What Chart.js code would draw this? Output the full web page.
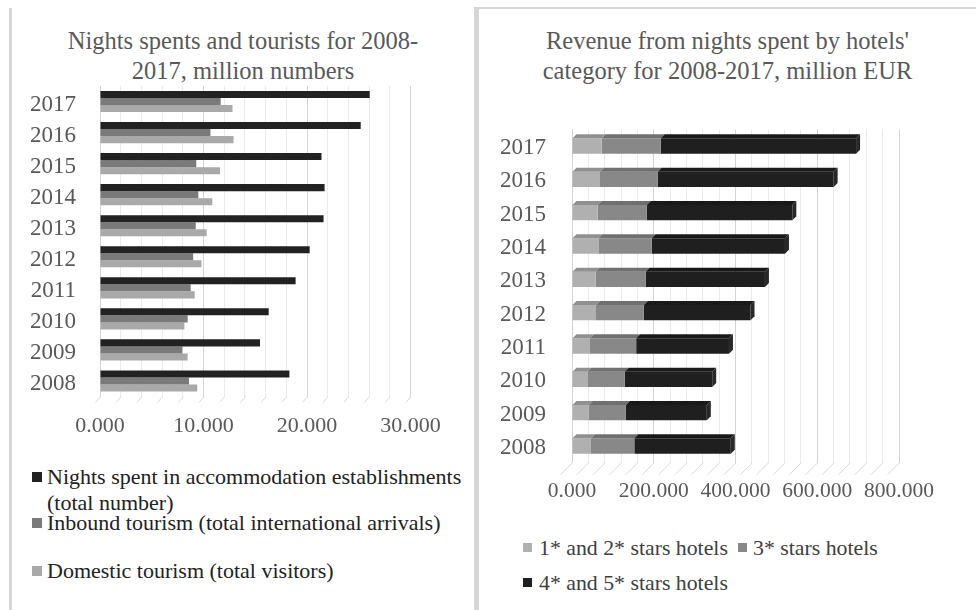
<!DOCTYPE html>
<html><head><meta charset="utf-8">
<script src="https://cdn.jsdelivr.net/npm/chart.js@4.4.0/dist/chart.umd.min.js"></script>
<style>
body{margin:0;background:#fff;width:976px;height:610px;position:relative;overflow:hidden;font-family:"Liberation Serif","Times New Roman",serif;}
.line{position:absolute;background:#d6d6d6;}
.title{position:absolute;text-align:center;color:#595959;font-size:24.5px;line-height:30px;white-space:nowrap;}
.lt{position:absolute;white-space:nowrap;line-height:26px;}
.sq{position:absolute;}
</style></head>
<body>
<div class="line" style="left:9px;top:8px;width:3px;height:602px"></div>
<div class="line" style="left:474px;top:8px;width:5px;height:602px"></div>
<div class="line" style="left:474px;top:7px;width:502px;height:2px"></div>
<div class="title" style="left:12px;top:26px;width:462px">Nights spents and tourists for 2008-<br>2017, million numbers</div>
<div class="title" style="left:479px;top:26px;width:497px">Revenue from nights spent by hotels'<br>category for 2008-2017, million EUR</div>
<div style="position:absolute;left:0;top:0;width:476px;height:450px"><canvas id="c1"></canvas></div>
<div style="position:absolute;left:478px;top:0;width:498px;height:510px"><canvas id="c2"></canvas></div>

<div class="sq" style="left:32px;top:472px;width:10px;height:10px;background:#222"></div>
<div class="lt" style="left:47px;top:464px;font-size:22px;color:#222">Nights spent in accommodation establishments</div>
<div class="lt" style="left:47px;top:490px;font-size:22px;color:#222">(total number)</div>
<div class="sq" style="left:32px;top:518px;width:10px;height:10px;background:#7a7a7a"></div>
<div class="lt" style="left:47px;top:510px;font-size:22px;color:#222">Inbound tourism (total international arrivals)</div>
<div class="sq" style="left:32px;top:566px;width:10px;height:10px;background:#a9a9a9"></div>
<div class="lt" style="left:47px;top:558px;font-size:22px;color:#222">Domestic tourism (total visitors)</div>

<div class="sq" style="left:523px;top:543px;width:9px;height:9px;background:#b0b0b0"></div>
<div class="lt" style="left:539px;top:535px;font-size:21.8px;color:#404040">1* and 2* stars hotels</div>
<div class="sq" style="left:738px;top:543px;width:9px;height:9px;background:#888888"></div>
<div class="lt" style="left:753px;top:535px;font-size:21.8px;color:#404040">3* stars hotels</div>
<div class="sq" style="left:523px;top:578px;width:9px;height:9px;background:#1f1f1f"></div>
<div class="lt" style="left:539px;top:570px;font-size:21.8px;color:#404040">4* and 5* stars hotels</div>

<script>
// ---- data ----
const years = ['2008','2009','2010','2011','2012','2013','2014','2015','2016','2017'];
// left chart, million numbers
const nightsSpent = [18.30, 15.46, 16.30, 18.90, 20.26, 21.60, 21.70, 21.40, 25.19, 26.06];
const inboundTourism = [8.60, 7.96, 8.47, 8.76, 9.00, 9.25, 9.50, 9.30, 10.67, 11.66];
const domesticTourism = [9.40, 8.47, 8.15, 9.15, 9.80, 10.30, 10.85, 11.60, 12.90, 12.80];
const leftTicks = [0, 10, 20, 30];
// right chart, million EUR
const hotels12 = [46.5, 40.8, 37.5, 44.0, 58.7, 58.0, 64.5, 63.0, 68.5, 72.6];
const hotels3 = [106.0, 91.0, 91.5, 113.0, 117.0, 122.0, 130.5, 120.0, 141.5, 144.4];
const hotels45 = [236.0, 198.0, 214.0, 227.0, 261.0, 292.0, 326.0, 356.0, 430.0, 478.0];
const rightTicks = [0, 200, 400, 600, 800];

const SERIF = '"Liberation Serif","Times New Roman",serif';
const fmt = v => Number(v).toFixed(3);

function floorPlugin(dx, dy) {
  return {
    id: 'floor',
    beforeDatasetsDraw(chart) {
      const ctx = chart.ctx, xs = chart.scales.x, area = chart.chartArea;
      ctx.save();
      xs.ticks.forEach(t => {
        const px = xs.getPixelForValue(t.value);
        ctx.strokeStyle = '#d9d9d9';
        ctx.lineWidth = 1;
        ctx.beginPath();
        ctx.moveTo(px + 0.5, area.bottom);
        ctx.lineTo(px + 0.5 - dx, area.bottom + dy);
        ctx.stroke();
      });
      ctx.restore();
    }
  };
}

function shade(hex, f) {
  const n = parseInt(hex.slice(1), 16);
  const r = Math.min(255, Math.round(((n >> 16) & 255) * f));
  const g = Math.min(255, Math.round(((n >> 8) & 255) * f));
  const b = Math.min(255, Math.round((n & 255) * f));
  return `rgb(${r},${g},${b})`;
}

const box3d = {
  id: 'box3d',
  afterDatasetsDraw(chart) {
    const ctx = chart.ctx, d = 4;
    const n = chart.data.datasets.length;
    ctx.save();
    chart.data.datasets.forEach((ds, di) => {
      const meta = chart.getDatasetMeta(di);
      meta.data.forEach(el => {
        const p = el.getProps(['x', 'y', 'base', 'height'], true);
        const top = p.y - p.height / 2, bot = p.y + p.height / 2;
        ctx.fillStyle = shade(ds.backgroundColor, 0.82);
        ctx.beginPath();
        ctx.moveTo(p.base, top);
        ctx.lineTo(p.x, top);
        ctx.lineTo(p.x + d, top - d);
        ctx.lineTo(p.base + d, top - d);
        ctx.closePath();
        ctx.fill();
        if (di === n - 1) {
          ctx.fillStyle = shade(ds.backgroundColor, 1.3);
          ctx.beginPath();
          ctx.moveTo(p.x, top);
          ctx.lineTo(p.x + d, top - d);
          ctx.lineTo(p.x + d, bot - d);
          ctx.lineTo(p.x, bot);
          ctx.closePath();
          ctx.fill();
        }
      });
    });
    ctx.restore();
  }
};

new Chart(document.getElementById('c1'), {
  type: 'bar',
  data: {
    labels: years,
    datasets: [
      { label: 'Nights spent in accommodation establishments (total number)', data: nightsSpent, backgroundColor: '#222222' },
      { label: 'Inbound tourism (total international arrivals)', data: inboundTourism, backgroundColor: '#7a7a7a' },
      { label: 'Domestic tourism (total visitors)', data: domesticTourism, backgroundColor: '#a9a9a9' }
    ]
  },
  options: {
    indexAxis: 'y',
    responsive: true, maintainAspectRatio: false, animation: false,
    datasets: { bar: { categoryPercentage: 0.68, barPercentage: 1.0, borderWidth: 0 } },
    layout: { padding: { top: 86, bottom: 13.5, left: 0, right: 65.5 } },
    plugins: { legend: { display: false }, tooltip: { enabled: false } },
    scales: {
      x: {
        min: leftTicks[0], max: leftTicks[leftTicks.length - 1],
        ticks: { stepSize: 2, autoSkip: false, maxRotation: 0, padding: 17, color: '#595959',
          font: { family: SERIF, size: 22 },
          callback: v => leftTicks.includes(v) ? fmt(v) : '' },
        grid: { drawTicks: false, color: c => leftTicks.includes(c.tick.value) ? '#d4d4d4' : '#ebebeb' },
        border: { display: false },
        afterFit: s => { s.height = 40; }
      },
      y: {
        reverse: true,
        ticks: { padding: 16, labelOffset: 3, color: '#595959', font: { family: SERIF, size: 23 } },
        grid: { display: false },
        border: { display: false },
        afterFit: s => { s.width = 100; }
      }
    }
  },
  plugins: [floorPlugin(5, 6)]
});

new Chart(document.getElementById('c2'), {
  type: 'bar',
  data: {
    labels: years,
    datasets: [
      { label: '1* and 2* stars hotels', data: hotels12, backgroundColor: '#b0b0b0' },
      { label: '3* stars hotels', data: hotels3, backgroundColor: '#888888' },
      { label: '4* and 5* stars hotels', data: hotels45, backgroundColor: '#1f1f1f' }
    ]
  },
  options: {
    indexAxis: 'y',
    responsive: true, maintainAspectRatio: false, animation: false,
    datasets: { bar: { categoryPercentage: 0.46, barPercentage: 1.0, borderWidth: 0 } },
    layout: { padding: { top: 129.3, bottom: 7.3, left: 0, right: 77 } },
    plugins: { legend: { display: false }, tooltip: { enabled: false } },
    scales: {
      x: {
        stacked: true,
        min: rightTicks[0], max: rightTicks[rightTicks.length - 1],
        ticks: { stepSize: 40, autoSkip: false, maxRotation: 0, padding: 16, color: '#595959',
          font: { family: SERIF, size: 21.5 },
          callback: v => rightTicks.includes(v) ? fmt(v) : '' },
        grid: { drawTicks: false, color: c => rightTicks.includes(c.tick.value) ? '#d4d4d4' : '#ebebeb' },
        border: { display: false },
        afterFit: s => { s.height = 40; }
      },
      y: {
        stacked: true,
        reverse: true,
        ticks: { padding: 18, labelOffset: 2, color: '#595959', font: { family: SERIF, size: 23 } },
        grid: { display: false },
        border: { display: false },
        afterFit: s => { s.width = 94; }
      }
    }
  },
  plugins: [floorPlugin(12, 12), box3d]
});
</script>
</body></html>
